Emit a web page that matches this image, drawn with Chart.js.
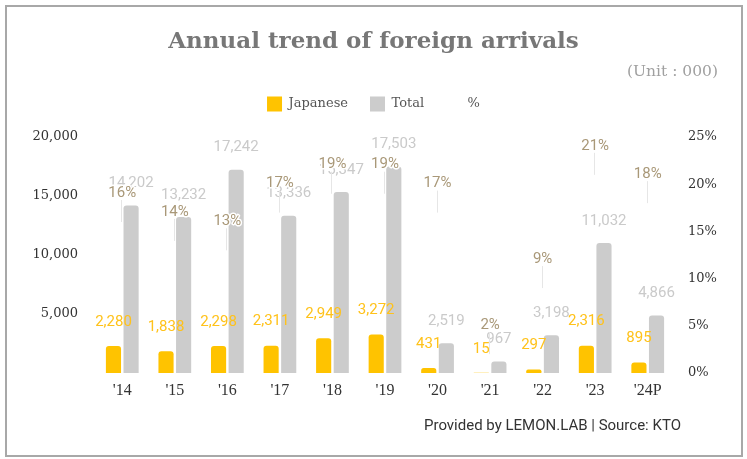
<!DOCTYPE html>
<html lang="en">
<head>
    <meta charset="UTF-8">
    <title>Annual trend of foreign arrivals</title>
    <style>
        body { margin: 0; background: #ffffff; }
        .wrap { position: relative; width: 747px; height: 459px; }
        .frame {
            position: absolute; left: 5px; top: 5px; width: 734px; height: 448px;
            border: 2px solid #a8a8a8; pointer-events: none;
        }
        .unit {
            position: absolute; right: 29px; top: 62px;
            font-family: 'DejaVu Serif', serif; font-size: 15.5px; color: #a0a0a0;
        }
        .source {
            position: absolute; left: 424px; top: 416px;
            font-family: Roboto, sans-serif; font-size: 15px; color: #333333;
        }
        canvas { display: block; }
    </style>
</head>
<body>
    <div class="wrap">
        <canvas id="arrivalsChart" width="747" height="459"></canvas>
        <div class="frame"></div>
        <div class="unit">(Unit : 000)</div>
        <div class="source">Provided by LEMON.LAB | Source: KTO</div>
    </div>

    <script src="https://cdn.jsdelivr.net/npm/chart.js"></script>
    <script>
        const years = ["'14", "'15", "'16", "'17", "'18", "'19", "'20", "'21", "'22", "'23", "'24P"];
        const japanese = [2280, 1838, 2298, 2311, 2949, 3272, 431, 15, 297, 2316, 895];
        const total = [14202, 13232, 17242, 13336, 15347, 17503, 2519, 967, 3198, 11032, 4866];
        const share = [16, 14, 13, 17, 19, 19, 17, 2, 9, 21, 18];
        const leftTicks = [5000, 10000, 15000, 20000];

        // extra room under the legend
        const legendGap = {
            id: 'legendGap',
            afterInit(chart) {
                const lg = chart.legend;
                if (!lg || lg._gapPatched) return;
                const fit = lg.fit;
                lg.fit = function () {
                    fit.call(this);
                    this.height += 15.5;
                };
                lg._gapPatched = true;
            }
        };

        // value labels drawn on top of the bars
        const valueLabels = {
            id: 'valueLabels',
            afterDatasetsDraw(chart) {
                const ctx = chart.ctx;
                ctx.save();
                ctx.textAlign = 'center';
                ctx.textBaseline = 'middle';
                ctx.font = '15px Roboto';

                const totMeta = chart.getDatasetMeta(1);
                ctx.fillStyle = '#cacaca';
                totMeta.data.forEach((bar, i) => {
                    ctx.fillText(total[i].toLocaleString('en-US'), bar.x, bar.y - 22);
                });

                const jpMeta = chart.getDatasetMeta(0);
                ctx.fillStyle = '#ffc21a';
                jpMeta.data.forEach((bar, i) => {
                    ctx.fillText(japanese[i].toLocaleString('en-US'), bar.x, bar.y - 24);
                });

                const pMeta = chart.getDatasetMeta(2);
                pMeta.data.forEach((pt, i) => {
                    ctx.strokeStyle = '#e6e6e6';
                    ctx.lineWidth = 1;
                    ctx.beginPath();
                    ctx.moveTo(Math.round(pt.x) - 0.5, pt.y);
                    ctx.lineTo(Math.round(pt.x) - 0.5, pt.y - 22);
                    ctx.stroke();
                    const txt = share[i] + '%';
                    ctx.lineWidth = 3;
                    ctx.strokeStyle = '#ffffff';
                    ctx.lineJoin = 'round';
                    ctx.strokeText(txt, pt.x, pt.y - 29);
                    ctx.fillStyle = '#a99878';
                    ctx.fillText(txt, pt.x, pt.y - 29);
                });
                ctx.restore();
            }
        };

        const ctx = document.getElementById('arrivalsChart').getContext('2d');
        new Chart(ctx, {
            data: {
                labels: years,
                datasets: [
                    {
                        type: 'bar',
                        label: 'Japanese',
                        data: japanese,
                        backgroundColor: '#ffc300',
                        borderRadius: { topLeft: 3, topRight: 3 },
                        borderSkipped: 'bottom',
                        barPercentage: 0.86,
                        categoryPercentage: 0.67,
                        yAxisID: 'y'
                    },
                    {
                        type: 'bar',
                        label: 'Total',
                        data: total,
                        backgroundColor: '#cccccc',
                        borderRadius: { topLeft: 3, topRight: 3 },
                        borderSkipped: 'bottom',
                        barPercentage: 0.86,
                        categoryPercentage: 0.67,
                        yAxisID: 'y'
                    },
                    {
                        type: 'line',
                        label: '%',
                        data: share,
                        showLine: false,
                        pointRadius: 0,
                        backgroundColor: 'rgba(0,0,0,0)',
                        borderColor: 'rgba(0,0,0,0)',
                        borderWidth: 0,
                        yAxisID: 'y1'
                    }
                ]
            },
            options: {
                responsive: false,
                animation: false,
                layout: { padding: { left: 0, right: 0, bottom: 56 } },
                plugins: {
                    title: {
                        display: true,
                        text: 'Annual trend of foreign arrivals',
                        color: '#777777',
                        font: { family: 'DejaVu Serif', size: 23, weight: 'bold' },
                        padding: { top: 28, bottom: 19 }
                    },
                    legend: {
                        position: 'top',
                        labels: {
                            boxWidth: 15,
                            boxHeight: 15,
                            padding: 22,
                            color: '#555555',
                            font: { family: 'DejaVu Serif', size: 13 }
                        }
                    },
                    tooltip: { enabled: false }
                },
                scales: {
                    x: {
                        grid: { display: false, drawTicks: false },
                        border: { display: false },
                        ticks: {
                            color: '#333333',
                            padding: 8,
                            font: { family: 'Liberation Serif', size: 16 }
                        },
                        afterFit: (s) => { s.height = 30; }
                    },
                    y: {
                        position: 'left',
                        min: 0,
                        max: 20000,
                        grid: { display: false, drawTicks: false },
                        border: { display: false },
                        afterBuildTicks: (s) => { s.ticks = leftTicks.map(v => ({ value: v })); },
                        ticks: {
                            color: '#333333',
                            padding: 18,
                            font: { family: 'DejaVu Serif', size: 13 },
                            callback: (v) => v.toLocaleString('en-US')
                        },
                        afterFit: (s) => { s.width = 96; }
                    },
                    y1: {
                        position: 'right',
                        min: 0,
                        max: 25,
                        grid: { display: false, drawTicks: false },
                        border: { display: false },
                        ticks: {
                            stepSize: 5,
                            color: '#333333',
                            padding: 14,
                            font: { family: 'DejaVu Serif', size: 13 },
                            callback: (v) => v + '%'
                        },
                        afterFit: (s) => { s.width = 73; }
                    }
                }
            },
            plugins: [legendGap, valueLabels]
        });
    </script>
</body>
</html>
